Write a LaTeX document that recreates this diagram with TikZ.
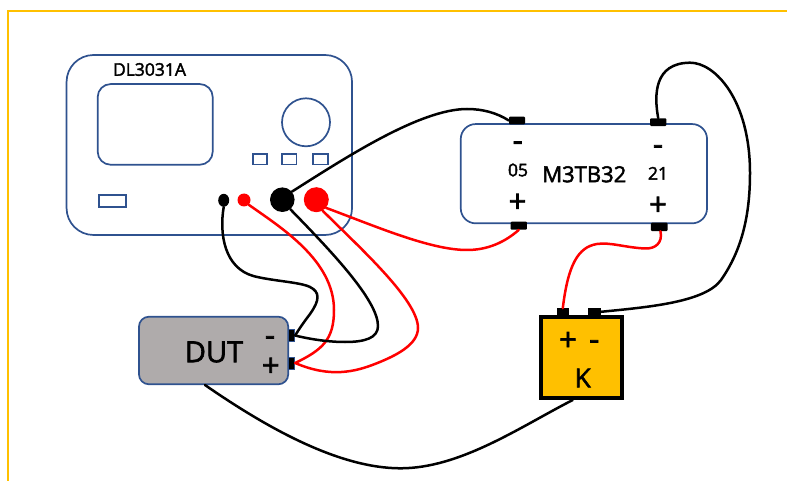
\documentclass[tikz,border=0pt]{standalone}
\usepackage{fontspec}
\usetikzlibrary{shapes.geometric}
\setmainfont{Open Sans}[FakeBold=2.2]
\definecolor{bord}{HTML}{2F528F}
\definecolor{amber}{HTML}{FFC000}
\definecolor{greyb}{HTML}{AFABAB}
\tikzset{
  panel/.style={draw=bord,line width=1.7pt,inner sep=0pt,fill=white},
  tab/.style={fill=black,draw=none,inner sep=0pt,rounded corners=1pt},
  jack/.style={circle,inner sep=0pt},
  wire/.style={line width=2.5pt,line cap=round,line join=round},
  lab/.style={inner sep=0pt,text=black},
  sz/.style={font=\fontsize{#1}{#1}\selectfont},
  sign/.style={inner sep=0pt,text=black,font=\fontsize{31}{31}\selectfont}
}
\begin{document}
\begin{tikzpicture}[x=1pt,y=-1pt]
\useasboundingbox (0,0) rectangle (787,481);
\draw[amber,line width=1.7pt] (787,11)--(8,11)--(8,481);
% load
\node[panel,rounded corners=27pt,minimum width=285.5pt,minimum height=180pt] (load) at (209.3,145) {};
\node[panel,rounded corners=13pt,minimum width=115pt,minimum height=80.7pt] (screen) at (155.2,124.4) {};
\node[panel,circle,minimum size=48pt] (knob) at (306,122.3) {};
\node[panel,minimum width=14.6pt,minimum height=10.7pt] (b1) at (260,159.3) {};
\node[panel,minimum width=14.6pt,minimum height=10.7pt] (b2) at (289.3,159.3) {};
\node[panel,minimum width=15pt,minimum height=10.7pt] (b3) at (320.8,159.3) {};
\node[panel,minimum width=27.6pt,minimum height=12pt] (pwr) at (112.5,200.7) {};
\node[lab,sz=17.5] (tload) at (149.5,69.5) {DL3031A};
\node[fill=black,ellipse,inner sep=0pt,minimum width=11pt,minimum height=13pt] (js) at (223.7,200.3) {};
\node[jack,fill=red,minimum size=13pt] (rs) at (244,200) {};
\node[jack,fill=black,minimum size=24.6pt] (jb) at (282.3,199.7) {};
\node[jack,fill=red,minimum size=25pt] (rb) at (316.3,199.7) {};
% shunt
\node[panel,rounded corners=15pt,minimum width=246.3pt,minimum height=99.3pt] (shunt) at (583.9,173.7) {};
\node[tab,minimum width=16pt,minimum height=7.6pt] (ta) at (517,120.5) {};
\node[tab,minimum width=16.3pt,minimum height=7.7pt] (tb) at (658.2,122.2) {};
\node[tab,minimum width=16.3pt,minimum height=8pt] (tc) at (518.8,225.7) {};
\node[tab,minimum width=16.7pt,minimum height=8.3pt] (td) at (659.3,226.9) {};
\node[sign] at (517.7,146.2) {-};
\node[lab,sz=17.5] at (518,170) {05};
\node[sign] at (517.5,203) {+};
\node[lab,sz=22] at (584.3,174.3) {M3TB32};
\node[sign] at (658,150) {-};
\node[lab,sz=17.5] at (658,173.3) {21};
\node[sign] at (658,206) {+};
% DUT
\node[panel,fill=greyb,rounded corners=10pt,minimum width=149.3pt,minimum height=67.6pt] (dut) at (213.6,350.5) {};
\node[tab,draw=bord,line width=1pt,rounded corners=0pt,minimum width=6pt,minimum height=12pt] (dm) at (291.7,335.5) {};
\node[tab,draw=bord,line width=1pt,rounded corners=0pt,minimum width=6pt,minimum height=12pt] (dp) at (291.7,363) {};
\node[lab,sz=29] at (214,352) {DUT};
\node[sign] at (270,341) {-};
\node[sign] at (270.7,367) {+};
% K
\node[draw=black,fill=amber,line width=4pt,inner sep=0pt,minimum width=81pt,minimum height=81pt] (k) at (581.5,357.5) {};
\node[fill=black,inner sep=0pt,minimum width=12.4pt,minimum height=7pt] (kp) at (562.8,311.8) {};
\node[fill=black,inner sep=0pt,minimum width=12.7pt,minimum height=7pt] (km) at (594.3,311.8) {};
\node[sign] at (568,341.3) {+};
\node[sign] at (594.3,345) {-};
\node[lab,sz=26] at (582.7,378) {K};
% wire ends on the box edges
\coordinate (da) at (205,385);
\coordinate (kb) at (572.7,400);
% wires
\draw[wire] (jb.40) .. controls (345,158) and (420,109) .. (467,109) .. controls (483,109) and (497,113) .. (ta.west);
\draw[wire] (tb.north) .. controls (654,95) and (654,63) .. (690,62.7) .. controls (715,62.5) and (750,100) .. (750,173) .. controls (750,215) and (742,250) .. (721,280) .. controls (705,302) and (650,307) .. (km.east);
\draw[wire,red] (rb.-40) .. controls (375,226) and (430,250) .. (467,250) .. controls (488,250) and (505,242) .. (tc.south);
\draw[wire,red] (td.-75) .. controls (663,243) and (655,249) .. (645,248.5) .. controls (625,247.5) and (610,242) .. (597,244) .. controls (578,247) and (568,265) .. (kp.north);
\draw[wire] (js.south) .. controls (219,235) and (225,268) .. (253.3,276) .. controls (272,281) and (300,282) .. (310,287) .. controls (320,292) and (320,300) .. (310,314) .. controls (304,322) and (299,329) .. (dm.east);
\draw[wire,red] (rs.-45) .. controls (280,227) and (334,260) .. (334,310) .. controls (334,340) and (322,350) .. (dp.east);
\draw[wire] (jb.-50) .. controls (330,250) and (378,300) .. (378,326) .. controls (378,338) and (365,342) .. (345,342) .. controls (325,342) and (305,338) .. (dm.east);
\draw[wire,red] (rb.-60) .. controls (360,248) and (418,300) .. (418,328) .. controls (418,345) and (395,356) .. (376.7,363.3) .. controls (355,372) and (330,378) .. (dp.east);
\draw[wire] (da) .. controls (270,430) and (340,468) .. (400,468.3) .. controls (460,468.5) and (520,427) .. (kb);
\end{tikzpicture}
\end{document}
